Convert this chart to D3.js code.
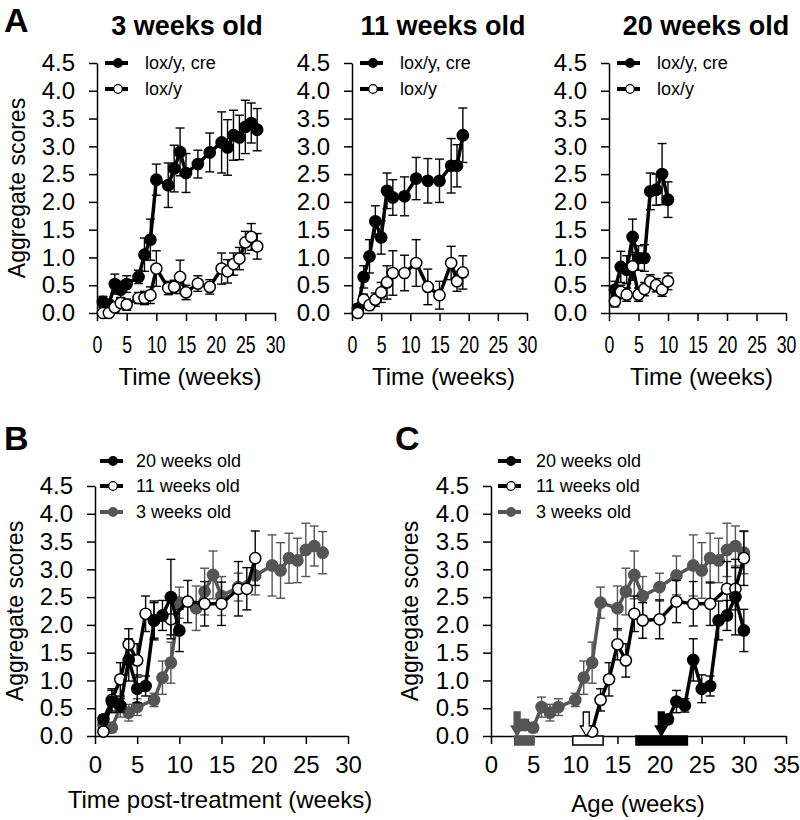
<!DOCTYPE html>
<html>
<head>
<meta charset="utf-8">
<script src="https://cdn.jsdelivr.net/npm/d3@7"></script>
<style>
  body { margin: 0; background: #fff; }
  svg { display: block; }
</style>
</head>
<body>
<div id="chart"></div>
<script>
// ---- data ----
// A: 3 weeks old
const weeks3 = [1, 2, 3, 4, 5, 7, 8, 9, 10, 12, 13, 14, 15, 17, 19, 21, 22, 23, 24, 25, 26, 27];
const cre3 = [0.2, 0.15, 0.52, 0.42, 0.52, 0.65, 1.05, 1.32, 2.4, 2.3, 2.6, 2.9, 2.52, 2.68, 2.89, 3.07, 2.98, 3.2, 3.16, 3.35, 3.42, 3.3];
const cre3Err = [0.1, 0.08, 0.18, 0.15, 0.15, 0.12, 0.3, 0.37, 0.28, 0.4, 0.42, 0.43, 0.35, 0.25, 0.35, 0.55, 0.5, 0.45, 0.4, 0.48, 0.36, 0.38];
const lox3 = [0, 0, 0.1, 0.18, 0.15, 0.27, 0.27, 0.32, 0.8, 0.45, 0.47, 0.65, 0.37, 0.53, 0.47, 0.8, 0.75, 0.88, 0.98, 1.27, 1.37, 1.2];
const lox3Err = [0.03, 0.03, 0.08, 0.1, 0.1, 0.1, 0.12, 0.15, 0.32, 0.12, 0.12, 0.3, 0.13, 0.14, 0.13, 0.28, 0.21, 0.2, 0.2, 0.2, 0.24, 0.23];

// A: 11 weeks old
const weeks11 = [1, 2, 3, 4, 5, 6, 7, 9, 11, 13, 15, 17, 18, 19];
const cre11 = [0.08, 0.65, 1.02, 1.65, 1.36, 2.2, 2.08, 2.1, 2.42, 2.38, 2.38, 2.65, 2.65, 3.2];
const cre11Err = [0.05, 0.2, 0.3, 0.28, 0.3, 0.32, 0.32, 0.35, 0.38, 0.4, 0.39, 0.49, 0.38, 0.49];
const lox11 = [0, 0.24, 0.14, 0.24, 0.37, 0.55, 0.72, 0.72, 0.9, 0.47, 0.32, 0.9, 0.57, 0.73];
const lox11Err = [0.02, 0.1, 0.08, 0.12, 0.18, 0.3, 0.4, 0.32, 0.42, 0.32, 0.25, 0.3, 0.18, 0.3];

// A: 20 weeks old
const weeks20 = [1, 2, 3, 4, 5, 6, 7, 8, 9, 10];
const cre20 = [0.42, 0.83, 0.78, 1.37, 0.99, 0.99, 2.19, 2.22, 2.5, 2.04];
const cre20Err = [0.15, 0.28, 0.25, 0.32, 0.22, 0.24, 0.33, 0.28, 0.55, 0.32];
const lox20 = [0.21, 0.38, 0.33, 0.84, 0.33, 0.43, 0.57, 0.5, 0.42, 0.57];
const lox20Err = [0.1, 0.12, 0.12, 0.25, 0.12, 0.12, 0.12, 0.12, 0.12, 0.15];

// B / C: 20 weeks old group as plotted there
const post20 = [0.3, 0.62, 0.55, 1.37, 0.85, 0.9, 2.08, 2.17, 2.5, 1.9];
const post20Err = [0.08, 0.2, 0.12, 0.38, 0.25, 0.18, 0.35, 0.27, 0.68, 0.38];

const groupNames = ["20 weeks old", "11 weeks old", "3 weeks old"];
const startAges = [20, 11, 3];
// treatment windows and arrows in C (ages)
const treatFrom = [17.2, 9.7, 2.8];
const treatTo = [23.3, 13.3, 5.1];
const arrowAges = [20.2, 11.3, 3.1];

const legendA = ["lox/y, cre", "lox/y"];
const titlesA = ["3 weeks old", "11 weeks old", "20 weeks old"];
const yTicks = [0, 0.5, 1, 1.5, 2, 2.5, 3, 3.5, 4, 4.5];
const xTicks30 = [0, 5, 10, 15, 20, 25, 30];
const xTicks35 = [0, 5, 10, 15, 20, 25, 30, 35];

// ---- drawing ----
const FONT = "'Liberation Sans', Arial, Helvetica, sans-serif";
const GRAY = "#555555";
const svg = d3.select("#chart").append("svg")
  .attr("width", 800)
  .attr("height", 820)
  .attr("font-family", FONT);

function makePanel(cfg) {
  const x = d3.scaleLinear().domain([0, cfg.xMax]).range([cfg.x0, cfg.x1]);
  const y = d3.scaleLinear().domain([0, 4.5]).range([cfg.yBot, cfg.yTop]);
  const g = svg.append("g");

  const xa = g.append("g")
    .attr("transform", `translate(0,${cfg.yBot})`)
    .call(d3.axisBottom(x).tickValues(cfg.xTicks).tickSize(8).tickSizeOuter(0).tickPadding(cfg.xPad));
  const ya = g.append("g")
    .attr("transform", `translate(${cfg.x0},0)`)
    .call(d3.axisLeft(y).tickValues(yTicks).tickFormat(d3.format(".1f")).tickSize(8).tickSizeOuter(0).tickPadding(14));

  [xa, ya].forEach((a) => {
    a.attr("font-family", FONT).attr("font-size", 24);
    a.selectAll("path, line").attr("stroke", "#000").attr("stroke-width", 1.5);
    a.selectAll("text").attr("fill", "#000");
  });
  if (cfg.narrow) {
    // tick labels in A are squeezed horizontally
    xa.selectAll("text").attr("transform", `scale(${cfg.narrow},1)`);
  }
  return { g, x, y };
}

function drawSeries(p, xs, vals, errs, st) {
  const pts = xs.map((d, i) => ({ x: d, v: vals[i], e: errs[i] }));
  const g = p.g.append("g");
  const cap = 4.5;

  const eb = g.append("g").attr("stroke", st.color).attr("stroke-width", 1.4);
  eb.selectAll("line.v").data(pts).join("line").attr("class", "v")
    .attr("x1", (d) => p.x(d.x)).attr("x2", (d) => p.x(d.x))
    .attr("y1", (d) => p.y(Math.max(0, d.v - d.e)))
    .attr("y2", (d) => p.y(d.v + d.e));
  eb.selectAll("line.t").data(pts).join("line").attr("class", "t")
    .attr("x1", (d) => p.x(d.x) - cap).attr("x2", (d) => p.x(d.x) + cap)
    .attr("y1", (d) => p.y(d.v + d.e)).attr("y2", (d) => p.y(d.v + d.e));
  eb.selectAll("line.b").data(pts.filter((d) => d.v - d.e > 0)).join("line").attr("class", "b")
    .attr("x1", (d) => p.x(d.x) - cap).attr("x2", (d) => p.x(d.x) + cap)
    .attr("y1", (d) => p.y(d.v - d.e)).attr("y2", (d) => p.y(d.v - d.e));

  const line = d3.line().x((d) => p.x(d.x)).y((d) => p.y(d.v));
  g.append("path").datum(pts)
    .attr("d", line)
    .attr("fill", "none")
    .attr("stroke", st.lineColor)
    .attr("stroke-width", 3.5)
    .attr("stroke-linejoin", "round");

  g.selectAll("circle").data(pts).join("circle")
    .attr("cx", (d) => p.x(d.x))
    .attr("cy", (d) => p.y(d.v))
    .attr("r", 5.6)
    .attr("fill", st.fill)
    .attr("stroke", st.stroke)
    .attr("stroke-width", 1.5);
}

function drawLegend(p, x0, rows, names, styles, textGap) {
  const g = p.g.append("g");
  names.forEach((name, i) => {
    const st = styles[i];
    const yy = rows[i];
    g.append("line")
      .attr("x1", x0).attr("x2", x0 + 23)
      .attr("y1", yy).attr("y2", yy)
      .attr("stroke", st.lineColor).attr("stroke-width", 4);
    g.append("circle")
      .attr("cx", x0 + 13).attr("cy", yy).attr("r", 4.3)
      .attr("fill", st.fill).attr("stroke", st.stroke).attr("stroke-width", 1.3);
    g.append("text")
      .attr("x", x0 + textGap).attr("y", yy).attr("dy", "0.35em")
      .attr("font-size", 18).attr("fill", "#000")
      .text(name);
  });
}

const filled = { color: "#000", lineColor: "#000", fill: "#000", stroke: "#000" };
const open = { color: "#000", lineColor: "#000", fill: "#fff", stroke: "#000" };
const grayS = { color: GRAY, lineColor: GRAY, fill: GRAY, stroke: GRAY };

// ---- panel A ----
const panelsA = [
  { x0: 97, x1: 275, tx: 187, weeks: weeks3, cre: cre3, creErr: cre3Err, lox: lox3, loxErr: lox3Err },
  { x0: 352, x1: 527, tx: 443, weeks: weeks11, cre: cre11, creErr: cre11Err, lox: lox11, loxErr: lox11Err },
  { x0: 609, x1: 786, tx: 706, weeks: weeks20, cre: cre20, creErr: cre20Err, lox: lox20, loxErr: lox20Err },
];

panelsA.forEach((d, i) => {
  const p = makePanel({ x0: d.x0, x1: d.x1, yTop: 63, yBot: 313, xMax: 30, xTicks: xTicks30, xPad: 15, narrow: 0.74 });
  drawSeries(p, d.weeks, d.cre, d.creErr, filled);
  drawSeries(p, d.weeks, d.lox, d.loxErr, open);
  drawLegend(p, d.x0 + 8, [63, 89], legendA, [filled, open], 40);
  svg.append("text")
    .attr("x", d.tx).attr("y", 35)
    .attr("text-anchor", "middle")
    .attr("font-size", 27).attr("font-weight", "bold")
    .text(titlesA[i]);
  svg.append("text")
    .attr("x", (d.x0 + d.x1) / 2 + 4).attr("y", 385)
    .attr("text-anchor", "middle")
    .attr("font-size", 24)
    .text("Time (weeks)");
});

svg.append("text")
  .attr("transform", "translate(25,188) rotate(-90)")
  .attr("text-anchor", "middle").attr("font-size", 23)
  .text("Aggregate scores");

// ---- panel B ----
const seriesBC = [
  { weeks: weeks20, vals: post20, errs: post20Err, st: filled },
  { weeks: weeks11, vals: cre11, errs: cre11Err, st: open },
  { weeks: weeks3, vals: cre3, errs: cre3Err, st: grayS },
];

const pB = makePanel({ x0: 95, x1: 348, yTop: 486, yBot: 736, xMax: 30, xTicks: xTicks30, xPad: 12 });
seriesBC.slice().reverse().forEach((s) => drawSeries(pB, s.weeks, s.vals, s.errs, s.st));
drawLegend(pB, 100, [461, 486, 512], groupNames, seriesBC.map((s) => s.st), 36);
svg.append("text")
  .attr("transform", "translate(23,611) rotate(-90)")
  .attr("text-anchor", "middle").attr("font-size", 23)
  .text("Aggregate scores");
svg.append("text")
  .attr("x", 220).attr("y", 808)
  .attr("text-anchor", "middle").attr("font-size", 24)
  .text("Time post-treatment (weeks)");

// ---- panel C ----
const pC = makePanel({ x0: 491, x1: 786, yTop: 486, yBot: 736, xMax: 35, xTicks: xTicks35, xPad: 12 });

// treatment windows below the axis
const fills = ["#000", "#fff", GRAY];
const strokes = ["#000", "#000", GRAY];
treatFrom.forEach((a, i) => {
  pC.g.append("rect")
    .attr("x", pC.x(a)).attr("y", pC.y(0))
    .attr("width", pC.x(treatTo[i]) - pC.x(a)).attr("height", 9)
    .attr("fill", fills[i]).attr("stroke", strokes[i]).attr("stroke-width", 1.5);
});

seriesBC.slice().reverse().forEach((s, k) => {
  const idx = 2 - k;
  const ages = s.weeks.map((w) => w + startAges[idx]);
  drawSeries(pC, ages, s.vals, s.errs, s.st);
});

// arrows marking start of treatment
arrowAges.forEach((a, i) => {
  const cx = pC.x(a);
  const y0 = pC.y(0);
  const path = `M${cx - 3},${y0 - 24} L${cx + 3},${y0 - 24} L${cx + 3},${y0 - 10} L${cx + 6},${y0 - 10} L${cx},${y0} L${cx - 6},${y0 - 10} L${cx - 3},${y0 - 10} Z`;
  pC.g.append("path")
    .attr("d", path)
    .attr("fill", fills[i]).attr("stroke", strokes[i]).attr("stroke-width", 1.3)
    .attr("stroke-linejoin", "miter");
});

drawLegend(pC, 498, [461, 486, 512], groupNames, seriesBC.map((s) => s.st), 38);
svg.append("text")
  .attr("transform", "translate(418,611) rotate(-90)")
  .attr("text-anchor", "middle").attr("font-size", 23)
  .text("Aggregate scores");
svg.append("text")
  .attr("x", 638).attr("y", 812)
  .attr("text-anchor", "middle").attr("font-size", 24)
  .text("Age (weeks)");

// ---- panel letters ----
[["A", 4, 32], ["B", 4, 450], ["C", 395, 450]].forEach(([t, x, y]) => {
  svg.append("text")
    .attr("x", x).attr("y", y)
    .attr("font-size", 34).attr("font-weight", "bold")
    .text(t);
});
</script>
</body>
</html>
